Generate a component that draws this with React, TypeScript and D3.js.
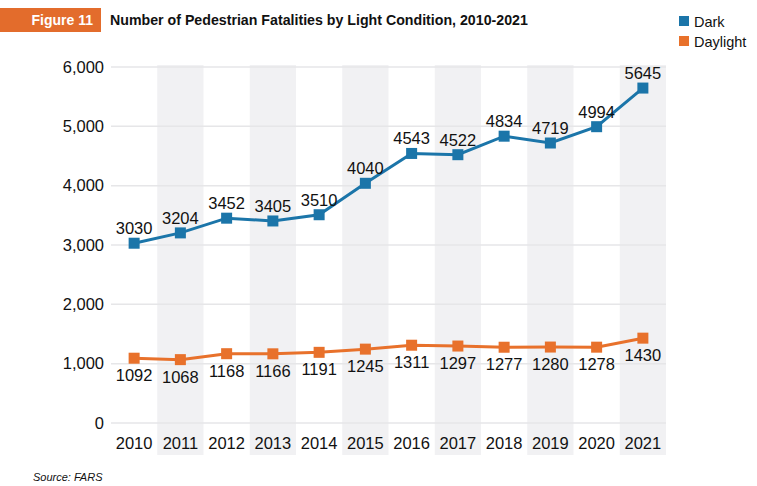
import * as d3 from 'd3'

const years = ['2010', '2011', '2012', '2013', '2014', '2015', '2016', '2017', '2018', '2019', '2020', '2021']
const dark = [3030, 3204, 3452, 3405, 3510, 4040, 4543, 4522, 4834, 4719, 4994, 5645]
const daylight = [1092, 1068, 1168, 1166, 1191, 1245, 1311, 1297, 1277, 1280, 1278, 1430]
const yTickValues = [0, 1000, 2000, 3000, 4000, 5000, 6000]

const width = 757
const height = 486
const margin = { top: 67, right: 91, bottom: 63, left: 111 }
const font = 'Helvetica, Arial, "Liberation Sans", sans-serif'

const darkColor = '#1b75a9'
const dayColor = '#e8712b'

export default function App() {
  const x = d3
    .scaleBand()
    .domain(years)
    .range([margin.left, width - margin.right])
  const y = d3
    .scaleLinear()
    .domain([0, 6000])
    .range([height - margin.bottom, margin.top])
  const cx = (yr: string) => x(yr)! + x.bandwidth() / 2

  const line = d3
    .line<number>()
    .x((_, i) => cx(years[i]))
    .y((d) => y(d))

  const sq = 11
  const fs = 16.5

  return (
    <svg width={width} height={height} style={{ position: 'absolute', left: 0, top: 0 }} fontFamily={font}>
      <rect width={width} height={height} fill="#fff" />
      {/* header */}
      <rect x={0} y={8} width={101} height={24} fill="#e36c2c" />
      <text x={93} y={25} fill="#fff" fontWeight="bold" fontSize={14} textAnchor="end">
        Figure 11
      </text>
      <text x={110} y={25} fill="#111" fontWeight="bold" fontSize={14.2}>
        Number of Pedestrian Fatalities by Light Condition, 2010-2021
      </text>
      {/* legend */}
      <rect x={679} y={16} width={10} height={10} fill={darkColor} />
      <text x={694} y={26.5} fontSize={14.5} fill="#111">Dark</text>
      <rect x={679} y={36} width={10} height={10} fill={dayColor} />
      <text x={694} y={46.5} fontSize={14.5} fill="#111">Daylight</text>

      {/* alternating bands */}
      {years.map((yr, i) =>
        i % 2 === 1 ? (
          <rect key={yr} x={x(yr)} y={margin.top - 2} width={x.bandwidth()} height={455 - margin.top + 2} fill="#f1f1f3" />
        ) : null,
      )}
      {/* gridlines + y labels */}
      {yTickValues.map((v) => (
        <g key={v}>
          <line x1={margin.left} x2={width - margin.right} y1={y(v)} y2={y(v)} stroke="#e6e6e8" strokeWidth={1.5} />
          <text x={104} y={y(v)} dy="0.35em" textAnchor="end" fontSize={fs} fill="#111">
            {d3.format(',')(v)}
          </text>
        </g>
      ))}
      {/* x labels */}
      {years.map((yr) => (
        <text key={yr} x={cx(yr)} y={449} textAnchor="middle" fontSize={fs} fill="#111">
          {yr}
        </text>
      ))}

      {/* series */}
      <path d={line(dark)!} fill="none" stroke={darkColor} strokeWidth={3} />
      {dark.map((v, i) => (
        <g key={i}>
          <rect x={cx(years[i]) - sq / 2} y={y(v) - sq / 2} width={sq} height={sq} fill={darkColor} />
          <text x={cx(years[i])} y={y(v) - 9} textAnchor="middle" fontSize={fs} fill="#111">
            {v}
          </text>
        </g>
      ))}
      <path d={line(daylight)!} fill="none" stroke={dayColor} strokeWidth={3} />
      {daylight.map((v, i) => (
        <g key={i}>
          <rect x={cx(years[i]) - sq / 2} y={y(v) - sq / 2} width={sq} height={sq} fill={dayColor} />
          <text x={cx(years[i])} y={y(v) + 23} textAnchor="middle" fontSize={fs} fill="#111">
            {v}
          </text>
        </g>
      ))}

      <text x={33} y={481} fontSize={11} fontStyle="italic" fill="#111">
        Source: FARS
      </text>
    </svg>
  )
}
